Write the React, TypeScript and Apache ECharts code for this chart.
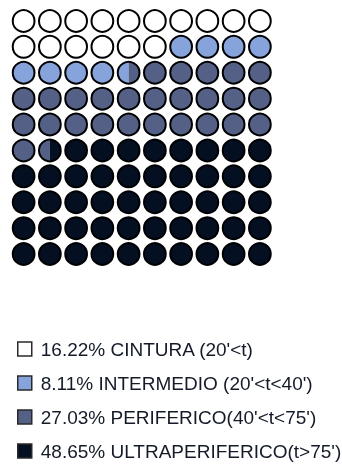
import React, { useEffect, useRef } from "react";
import * as echarts from "echarts";

// ---- data ----
const categories = ["CINTURA (20'<t)", "INTERMEDIO (20'<t<40')", "PERIFERICO(40'<t<75')", "ULTRAPERIFERICO(t>75')"];
const percentages = [16.22, 8.11, 27.03, 48.65];
const colors = ["#ffffff", "#87a3dc", "#546085", "#050f22"];
const gridCols = 10;
const gridRows = 10;

const labelOf = (i: number) => `${percentages[i].toFixed(2)}% ${categories[i]}`;

function buildCells() {
  const total = gridCols * gridRows;
  const bounds: number[] = [0];
  let cum = 0;
  percentages.forEach((p) => {
    cum += p;
    bounds.push(Math.min(total, Math.round(cum * 2) / 2));
  });
  bounds[bounds.length - 1] = total;
  return percentages.map((_, k) => {
    const a = bounds[k];
    const b = bounds[k + 1];
    const cells: number[][] = [];
    for (let i = Math.floor(a); i < Math.ceil(b); i++) {
      const s = Math.max(a, i) - i;
      const e = Math.min(b, i + 1) - i;
      if (e > s) cells.push([i % gridCols, Math.floor(i / gridCols), s, e]);
    }
    return cells;
  });
}

export default function App() {
  const ref = useRef<HTMLDivElement>(null);
  useEffect(() => {
    if (!ref.current) return;
    const chart = echarts.init(ref.current, undefined, { renderer: "svg" });
    const cellsByCat = buildCells();
    const allCells: number[][] = [];
    for (let r = 0; r < gridRows; r++) for (let c = 0; c < gridCols; c++) allCells.push([c, r]);

    const radiusOf = (api: any) => {
      const sz = api.size([1, 1]);
      return (Math.min(sz[0], sz[1]) / 2) * 0.84;
    };

    const segSeries = categories.map((_, k) => ({
      type: "custom",
      name: labelOf(k),
      itemStyle: { color: colors[k] },
      data: cellsByCat[k],
      renderItem: (params: any, api: any) => {
        const col = api.value(0);
        const row = api.value(1);
        const s = api.value(2);
        const e = api.value(3);
        const [cx, cy] = api.coord([col + 0.5, row + 0.5]);
        const r = radiusOf(api);
        const x1 = cx - r + 2 * r * s;
        const x2 = cx - r + 2 * r * e;
        const t1 = Math.acos(Math.max(-1, Math.min(1, (x1 - cx) / r)));
        const t2 = Math.acos(Math.max(-1, Math.min(1, (x2 - cx) / r)));
        const n = 40;
        const pts: number[][] = [];
        for (let j = 0; j <= n; j++) {
          const t = t1 + ((t2 - t1) * j) / n;
          pts.push([cx + r * Math.cos(t), cy - r * Math.sin(t)]);
        }
        for (let j = 0; j <= n; j++) {
          const t = t2 + ((t1 - t2) * j) / n;
          pts.push([cx + r * Math.cos(t), cy + r * Math.sin(t)]);
        }
        return {
          type: "polygon",
          shape: { points: pts },
          style: { fill: colors[k], stroke: null },
        };
      },
    }));

    const outlineSeries = {
      type: "custom",
      name: "outline",
      data: allCells,
      silent: true,
      z: 10,
      renderItem: (params: any, api: any) => {
        const [cx, cy] = api.coord([api.value(0) + 0.5, api.value(1) + 0.5]);
        const r = radiusOf(api);
        return {
          type: "circle",
          shape: { cx, cy, r },
          style: { fill: "none", stroke: "#000000", lineWidth: 2 },
        };
      },
    };

    chart.setOption({
      animation: false,
      grid: { left: 10.5, top: 8, width: 262.5, height: 259 },
      xAxis: { type: "value", min: 0, max: gridCols, show: false },
      yAxis: { type: "value", min: 0, max: gridRows, inverse: true, show: false },
      legend: {
        orient: "vertical",
        left: 17,
        top: 339,
        height: 125,
        padding: 0,
        itemWidth: 14,
        itemHeight: 14,
        itemGap: 14,
        icon: "rect",
        selectedMode: false,
        data: categories.map((_, k) => ({
          name: labelOf(k),
          itemStyle: { color: colors[k], borderColor: "#2a2a2a", borderWidth: 1.5 },
        })),
        textStyle: {
          fontFamily: "Liberation Sans, Arial, sans-serif",
          fontSize: 19,
          lineHeight: 20,
          color: "#141a28",
          padding: [0, 0, 0, 4],
        },
      },
      series: [...segSeries, outlineSeries],
    });
    return () => chart.dispose();
  }, []);
  return <div ref={ref} style={{ position: "fixed", left: 0, top: 0, width: 342, height: 464 }} />;
}
